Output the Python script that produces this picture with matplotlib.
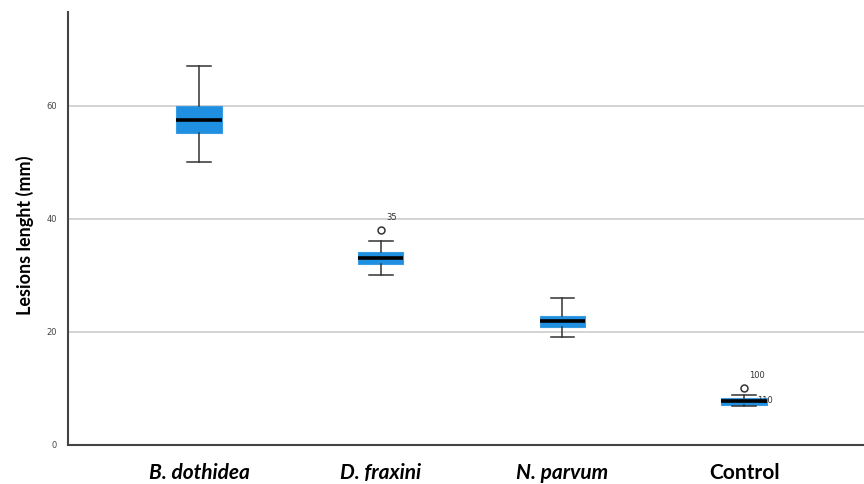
import matplotlib
matplotlib.use("Agg")
import matplotlib.pyplot as plt

# box statistics (mm)
groups = ["B. dothidea", "D. fraxini", "N. parvum", "Control"]
italic = [True, True, True, False]
whislo = [50, 30, 19, 6.8]
q1 = [55.2, 32.0, 20.9, 7.0]
medians = [57.5, 33.0, 22.0, 7.7]
q3 = [60.0, 34.2, 22.8, 8.2]
whishi = [67, 36, 26, 8.9]
fliers = [[], [38], [], [10]]
flier_labels = [[], ["35"], [], ["100"]]
extra_labels = [(3, 8.7, "110")]

BLUE = "#1e8fe1"

stats = []
for i in range(len(groups)):
    stats.append(dict(med=medians[i], q1=q1[i], q3=q3[i],
                      whislo=whislo[i], whishi=whishi[i],
                      fliers=fliers[i], label=groups[i]))

fig = plt.figure(figsize=(8.64, 4.84), dpi=100)
ax = fig.add_axes([0.079, 0.081, 0.921, 0.894])

pos = list(range(len(groups)))
ax.bxp(stats, positions=pos, widths=0.25, patch_artist=True,
       boxprops=dict(facecolor=BLUE, edgecolor="#3a9ce0", linewidth=0.8),
       medianprops=dict(color="black", linewidth=2.6),
       whiskerprops=dict(color="#333333", linewidth=1.1),
       capprops=dict(color="#333333", linewidth=1.1),
       capwidths=0.13,
       flierprops=dict(marker="o", markersize=5, markerfacecolor="white",
                       markeredgecolor="#333333", markeredgewidth=1.1),
       zorder=3)

for i, (vals, labs) in enumerate(zip(fliers, flier_labels)):
    for v, t in zip(vals, labs):
        ax.text(i + 0.03, v + 2.2, t, fontsize=6, color="#333333",
                va="center", ha="left")
for i, v, t in extra_labels:
    ax.text(i + 0.07, v - 0.8, t, fontsize=6, color="#333333",
            va="center", ha="left")

ax.set_xlim(-0.72, 3.66)
ax.set_ylim(0, 76.6)
ax.set_yticks([0, 20, 40, 60])
ax.set_yticklabels(["0", "20", "40", "60"], fontsize=6, color="#444444")
ax.yaxis.grid(True, color="#c8c8c8", linewidth=1.1, zorder=0)
ax.set_axisbelow(True)
ax.tick_params(axis="both", length=0)
ax.tick_params(axis="y", pad=8)

ax.set_xticks(pos)
ax.set_xticklabels(groups)
for lab, it in zip(ax.get_xticklabels(), italic):
    lab.set_fontfamily("Lato")
    lab.set_fontweight("bold")
    lab.set_fontsize(15)
    lab.set_fontstyle("italic" if it else "normal")
ax.tick_params(axis="x", pad=13)

ax.set_ylabel("Lesions lenght (mm)", fontfamily="Lato", fontweight="bold",
              fontsize=13)
ax.yaxis.set_label_coords(-0.043, 0.485)

for s in ["top", "right"]:
    ax.spines[s].set_visible(False)
for s in ["left", "bottom"]:
    ax.spines[s].set_color("#444444")
    ax.spines[s].set_linewidth(1.5)

fig.savefig("out.png", dpi=100)
